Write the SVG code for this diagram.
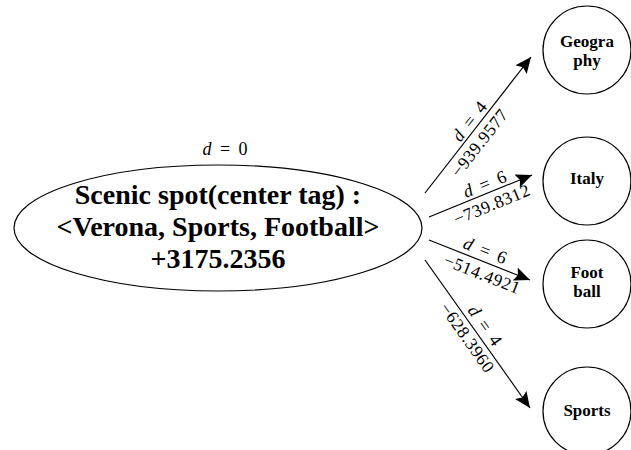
<svg xmlns="http://www.w3.org/2000/svg" width="631" height="450" viewBox="0 0 631 450">
<style>
.node{fill:#fff;stroke:#000;stroke-width:1.2}
.big{font-family:"Liberation Serif","Times New Roman",serif;font-weight:bold;font-size:28px;text-anchor:middle;fill:#000}
.lab{font-family:"Liberation Serif","Times New Roman",serif;font-weight:bold;font-size:17px;text-anchor:middle;fill:#000}
.edge{stroke:#000;stroke-width:1.2;fill:none;marker-end:url(#ah)}
.d{font-family:"Liberation Serif",serif;font-size:18px;text-anchor:middle;word-spacing:4px;fill:#000}
.num{font-family:"Liberation Serif",serif;font-size:17.5px;text-anchor:middle;letter-spacing:0.6px;fill:#000}
</style>
<defs>
<marker id="ah" markerUnits="userSpaceOnUse" markerWidth="16" markerHeight="14" refX="16" refY="7" orient="auto">
<path d="M0,0 L16,7 L0,14 L3,7 z" fill="#000"/>
</marker>
</defs>
<rect width="631" height="450" fill="#fff"/>
<g id="center">
<ellipse class="node" cx="218" cy="228" rx="204" ry="63"/>
<text class="d" x="225" y="155" font-size="16"><tspan font-style="italic">d</tspan> = 0</text>
<text class="big" x="218" y="204">Scenic spot(center tag) :</text>
<text class="big" x="218" y="236">&lt;Verona, Sports, Football&gt;</text>
<text class="big" x="218" y="268">+3175.2356</text>
</g>
<g id="geography">
<circle class="node" cx="587" cy="50" r="44"/>
<text class="lab" x="587" y="47">Geogra</text>
<text class="lab" x="587" y="66">phy</text>
</g>
<g id="italy">
<circle class="node" cx="587" cy="181" r="44"/>
<text class="lab" x="587" y="184">Italy</text>
</g>
<g id="football">
<circle class="node" cx="587" cy="284" r="44"/>
<text class="lab" x="587" y="278">Foot</text>
<text class="lab" x="587" y="297">ball</text>
</g>
<g id="sports">
<circle class="node" cx="587" cy="411" r="44"/>
<text class="lab" x="587" y="416">Sports</text>
</g>
<g id="connectors">
<line class="edge" x1="425" y1="193" x2="531" y2="57"/>
<line class="edge" x1="429" y1="217" x2="532" y2="175"/>
<line class="edge" x1="429" y1="240" x2="530" y2="280"/>
<line class="edge" x1="425" y1="260" x2="530" y2="408"/>
<g transform="translate(425,193) rotate(-52.1)">
<text class="d" x="84" y="-3"><tspan font-style="italic">d</tspan> = 4</text>
<text class="num" x="73" y="18">−939.9577</text>
</g>
<g transform="translate(429,217) rotate(-22.2)">
<text class="d" x="64" y="-3.5"><tspan font-style="italic">d</tspan> = 6</text>
<text class="num" x="63" y="18">−739.8312</text>
</g>
<g transform="translate(429,240) rotate(21.6)">
<text class="d" x="56" y="-5"><tspan font-style="italic">d</tspan> = 6</text>
<text class="num" x="62" y="18">−514.4921</text>
</g>
<g transform="translate(425,260) rotate(54.6)">
<text class="d" x="88" y="-5"><tspan font-style="italic">d</tspan> = 4</text>
<text class="num" x="88" y="16.5">−628.3960</text>
</g>
</g>
</svg>
